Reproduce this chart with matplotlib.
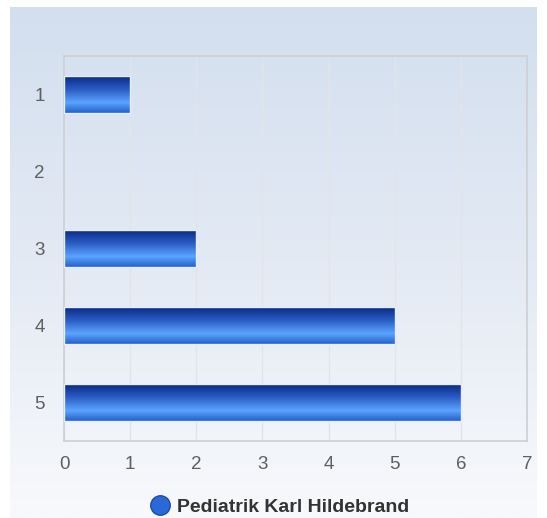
import numpy as np
import matplotlib.pyplot as plt
from matplotlib.colors import LinearSegmentedColormap
from matplotlib.lines import Line2D

# ========== 数据 ==========
categories = ["1", "2", "3", "4", "5"]
values = [1, 0, 2, 5, 6]
series_name = "Pediatrik Karl Hildebrand"
x_ticks = [0, 1, 2, 3, 4, 5, 6, 7]

plt.rcParams['font.family'] = ['Liberation Sans', 'DejaVu Sans']

fig = plt.figure(figsize=(5.47, 5.18), dpi=100)
fig.patch.set_facecolor("white")

# 背景渐变
bg = fig.add_axes([10 / 547, 0, 527 / 547, 511 / 518], zorder=-10)
bg_cmap = LinearSegmentedColormap.from_list("bg", ["#d3dfef", "#e3eaf4", "#f8f9fc"])
bg.imshow(np.linspace(0, 1, 256).reshape(-1, 1), cmap=bg_cmap, aspect="auto")
bg.axis("off")

ax = fig.add_axes([64 / 547, 77 / 518, 463 / 547, 385 / 518])
ax.set_facecolor("none")

bar_cmap = LinearSegmentedColormap.from_list(
    "bar", [(0.0, "#0a2a86"), (0.35, "#2a5cc4"), (0.72, "#5aa4ff"), (1.0, "#2462cc")])
grad = np.linspace(0, 1, 64).reshape(-1, 1)

ypos = np.arange(1, len(categories) + 1)
bars = ax.barh(ypos, values, height=0.48, color="none", edgecolor="none", zorder=3)
for b in bars:
    x, y, w, h = b.get_x(), b.get_y(), b.get_width(), b.get_height()
    if w <= 0:
        continue
    b.set_edgecolor("#e6eefc")
    b.set_linewidth(1)
    ax.imshow(grad, cmap=bar_cmap, aspect="auto", origin="upper",
              extent=(x, x + w, y + h, y), zorder=2)

ax.set_xlim(0, 7)
ax.set_ylim(5.5, 0.5)
ax.set_xticks(x_ticks)
ax.set_yticks(ypos)
ax.set_yticklabels(categories)
ax.tick_params(length=0, labelsize=13.5, labelcolor="#5f5f5f", pad=11)
ax.tick_params(axis="y", pad=14)
ax.grid(axis="x", color="#e2e4e8", linewidth=1, zorder=0)
ax.set_axisbelow(True)
for s in ax.spines.values():
    s.set_color("#cdcfd3")
    s.set_linewidth(1.2)

# 图例
handle = Line2D([], [], marker="o", linestyle="none", markersize=14,
                markerfacecolor="#2a6ad8", markeredgecolor="#1a4aa8")
fig.legend([handle], [series_name], loc="center", bbox_to_anchor=(0.51, 11 / 518),
           frameon=False, handletextpad=0.3, handlelength=1.2,
           prop={"weight": "bold", "size": 14})
for t in fig.legends[0].get_texts():
    t.set_color("#333333")

fig.savefig("out.png", dpi=100)
